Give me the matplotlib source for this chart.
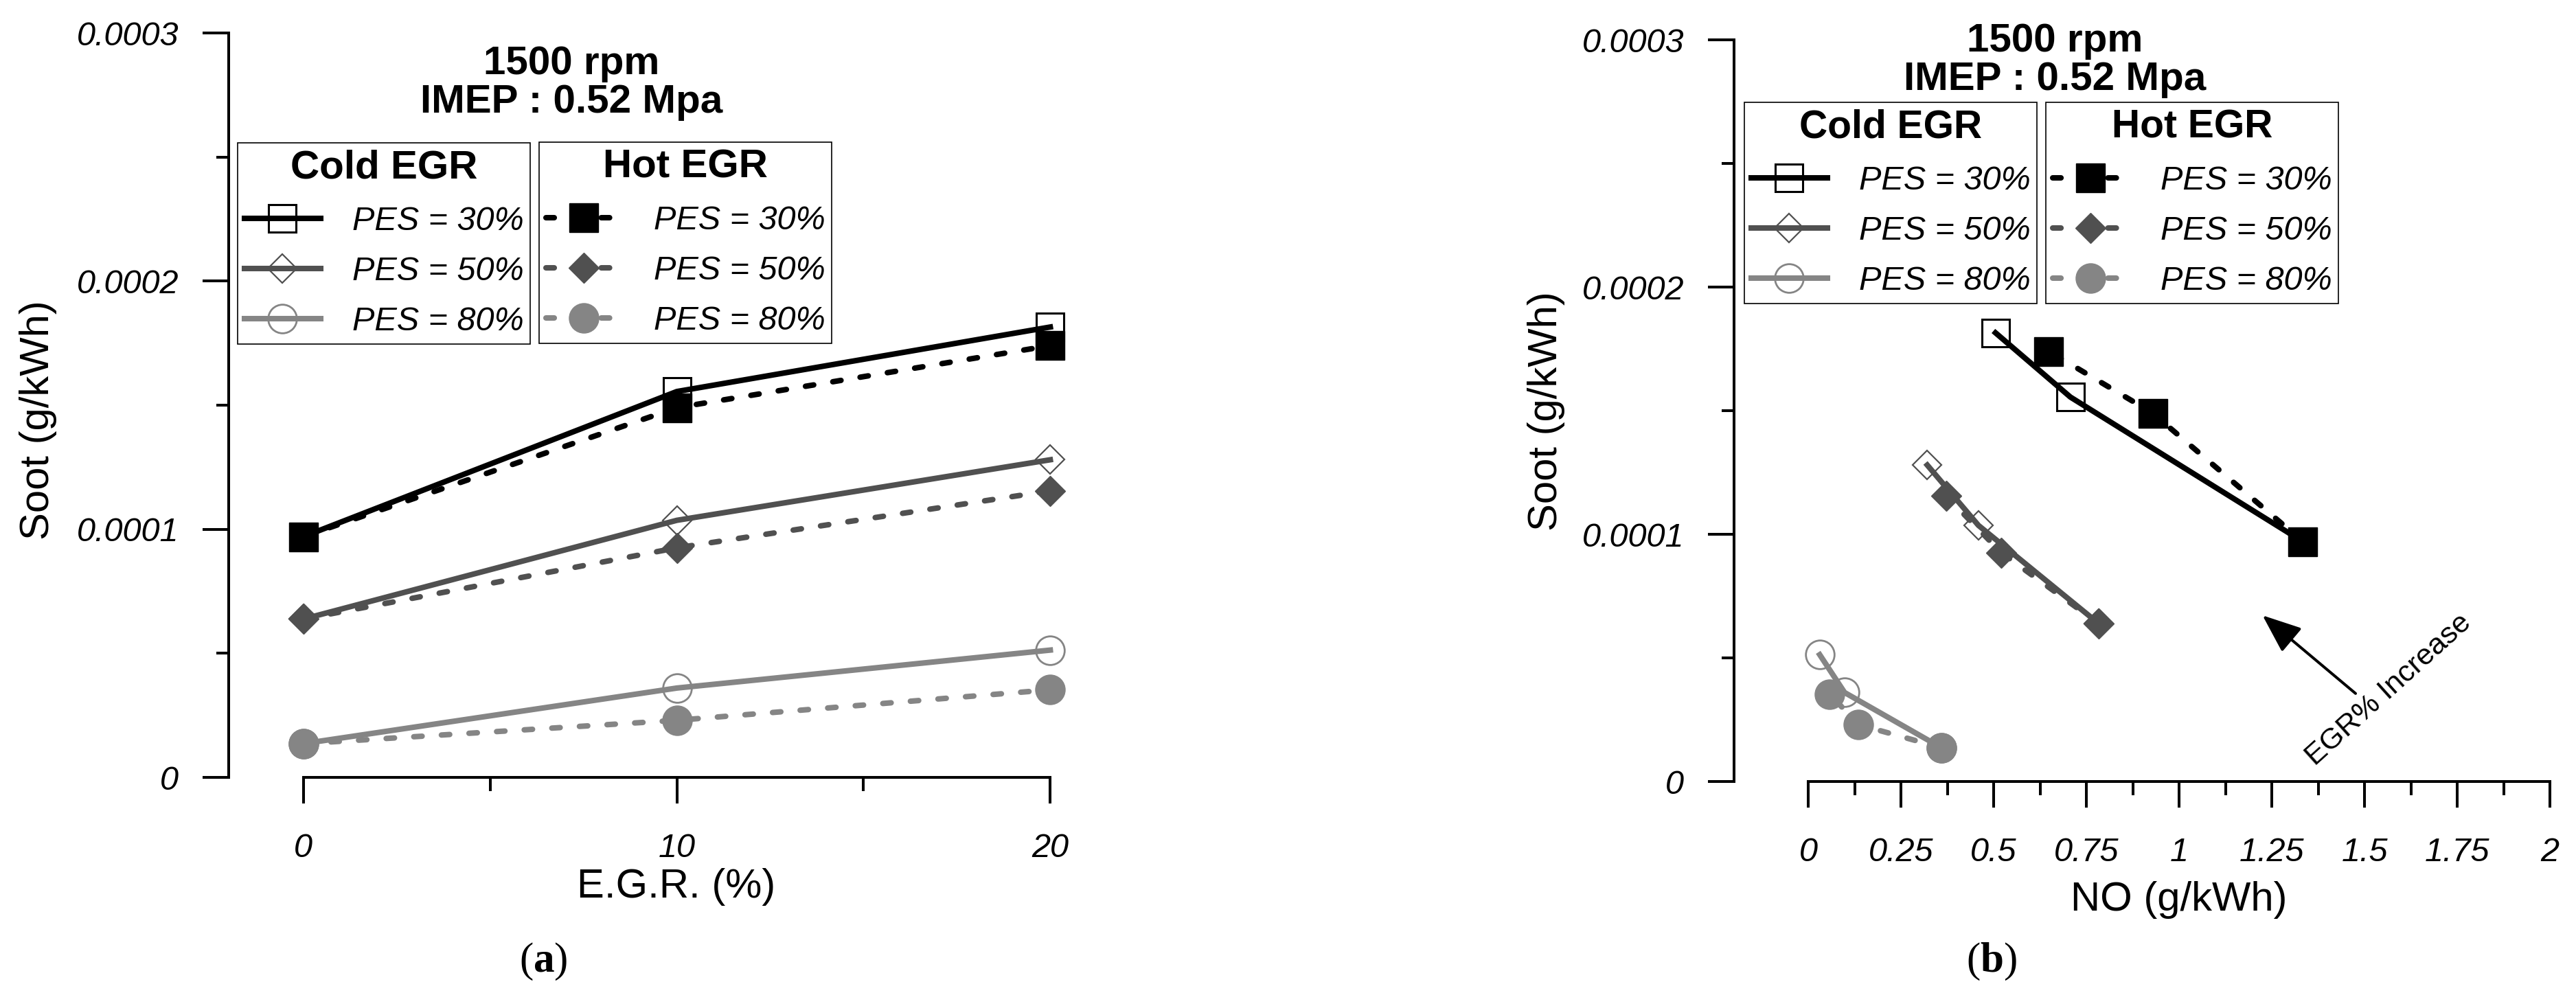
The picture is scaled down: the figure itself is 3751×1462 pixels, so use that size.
import numpy as np
import matplotlib
matplotlib.use("Agg")
import matplotlib.pyplot as plt
from matplotlib.ticker import FixedLocator

plt.rcParams['font.family'] = 'Liberation Sans'
plt.rcParams['mathtext.fontset'] = 'custom'
plt.rcParams['mathtext.rm'] = 'Liberation Serif'
plt.rcParams['mathtext.bf'] = 'Liberation Serif:bold'

# data
egr = [0, 10, 20]
soot_cold_30 = [0.97e-4, 1.555e-4, 1.815e-4]
soot_hot_30 = [0.97e-4, 1.49e-4, 1.74e-4]
soot_cold_50 = [0.638e-4, 1.036e-4, 1.28e-4]
soot_hot_50 = [0.638e-4, 0.925e-4, 1.155e-4]
soot_cold_80 = [0.136e-4, 0.36e-4, 0.513e-4]
soot_hot_80 = [0.136e-4, 0.23e-4, 0.353e-4]

no_cold_30 = [1.334, 0.707, 0.505]
no_hot_30 = [1.334, 0.929, 0.649]
no_cold_50 = [0.784, 0.459, 0.321]
no_hot_50 = [0.784, 0.521, 0.372]
no_cold_80 = [0.36, 0.098, 0.031]
no_hot_80 = [0.36, 0.136, 0.058]

pes_labels = ['PES = 30%', 'PES = 50%', 'PES = 80%']
y_ticks = [0, 1e-4, 2e-4, 3e-4]
y_ticklabels = ['0', '0.0001', '0.0002', '0.0003']
egr_ticks = [0, 10, 20]
egr_ticklabels = ['0', '10', '20']
no_ticks = [0, 0.25, 0.5, 0.75, 1, 1.25, 1.5, 1.75, 2]
no_ticklabels = ['0', '0.25', '0.5', '0.75', '1', '1.25', '1.5', '1.75', '2']

W, H, DPI = 3751, 1462, 100
c30, c50, c80 = '#000000', '#505050', '#858585'
LW = 5.8
DASH = (0, (1.5, 3.5))

fig = plt.figure(figsize=(W / DPI, H / DPI), dpi=DPI)
ax1 = fig.add_axes([333 / W, 330 / H, 1229 / W, 1084 / H])
ax2 = fig.add_axes([2525 / W, 324 / H, 1188 / W, 1080 / H])


def style(ax, xlim, xb, ticks, labels, minor):
    ax.set_xlim(*xlim)
    ax.set_ylim(0, 3e-4)
    for s in ['top', 'right']:
        ax.spines[s].set_visible(False)
    for s in ['left', 'bottom']:
        ax.spines[s].set_linewidth(2.9)
    ax.spines['bottom'].set_bounds(*xb)
    ax.spines['left'].set_bounds(0, 3e-4)
    ax.set_yticks(y_ticks, labels=y_ticklabels)
    ax.yaxis.set_minor_locator(FixedLocator([0.5e-4, 1.5e-4, 2.5e-4]))
    ax.set_xticks(ticks, labels=labels)
    ax.xaxis.set_minor_locator(FixedLocator(minor))
    ax.tick_params(which='major', length=27.4, width=2.9, labelsize=35)
    ax.tick_params(axis='y', which='minor', length=13, width=2.9)
    ax.tick_params(axis='x', which='minor', length=14.4, width=2.9)
    ax.tick_params(axis='y', which='major', pad=25)
    ax.tick_params(axis='x', which='major', pad=31)
    for lab in ax.get_xticklabels() + ax.get_yticklabels():
        lab.set_fontstyle('italic')
    ax.set_ylabel('Soot (g/kWh)', fontsize=43)
    ax.yaxis.label.set_va('center')


def draw(ax, xs):
    (xc30, xh30, xc50, xh50, xc80, xh80) = xs
    cold = [
        ax.plot(xc30[0], xc30[1], color=c30, lw=LW, marker='s', ms=28.5, mfc='none',
                mec=c30, mew=2.2, zorder=3, clip_on=False)[0],
        ax.plot(xc50[0], xc50[1], color=c50, lw=LW, marker='D', ms=21.5, mfc='none',
                mec=c50, mew=1.6, zorder=3, clip_on=False)[0],
        ax.plot(xc80[0], xc80[1], color=c80, lw=LW, marker='o', ms=30, mfc='none',
                mec=c80, mew=2, zorder=3, clip_on=False)[0],
    ]
    hot = [
        ax.plot(xh30[0], xh30[1], color=c30, lw=LW, ls=DASH, dash_capstyle='round',
                marker='s', ms=30.5, mfc=c30, mec=c30, mew=1, zorder=4, clip_on=False)[0],
        ax.plot(xh50[0], xh50[1], color=c50, lw=LW, ls=DASH, dash_capstyle='round',
                marker='D', ms=22.4, mfc=c50, mec=c50, mew=1, zorder=4, clip_on=False)[0],
        ax.plot(xh80[0], xh80[1], color=c80, lw=LW, ls=DASH, dash_capstyle='round',
                marker='o', ms=31, mfc=c80, mec=c80, mew=1, zorder=4, clip_on=False)[0],
    ]
    return cold, hot


def legends(cold, hot, pos_cold, pos_hot, tsize):
    for handles, title, (x0, y0) in [(cold, 'Cold EGR', pos_cold), (hot, 'Hot EGR', pos_hot)]:
        leg = fig.legend(handles, pes_labels, title=title, loc='upper left',
                         bbox_to_anchor=(x0 / W, 1 - y0 / H), bbox_transform=fig.transFigure,
                         prop={'style': 'italic', 'size': 35},
                         title_fontproperties={'weight': 'bold', 'size': tsize},
                         fancybox=False, framealpha=1, edgecolor='black',
                         borderpad=0.2, handlelength=2.28, handletextpad=0.95,
                         labelspacing=0.58, borderaxespad=0)
        leg.get_frame().set_linewidth(1.2)


style(ax1, (-2, 20.6), (0, 20), egr_ticks, egr_ticklabels, [5, 15])
cold, hot = draw(ax1, [(egr, soot_cold_30), (egr, soot_hot_30), (egr, soot_cold_50),
                       (egr, soot_hot_50), (egr, soot_cold_80), (egr, soot_hot_80)])
legends(cold, hot, (346, 208), (785, 207), 42)
ax1.set_xlabel('E.G.R. (%)', fontsize=43)
ax1.xaxis.set_label_coords(0.5305, -0.1467)
ax1.xaxis.label.set_va('center')
ax1.yaxis.set_label_coords(-0.2254, 0.48)
ax1.text(0.406, 0.933, '1500 rpm\nIMEP : 0.52 Mpa', transform=ax1.transAxes,
         ha='center', va='center', fontsize=42, fontweight='bold', linespacing=1.05)

style(ax2, (-0.2, 2.0), (0, 2), no_ticks, no_ticklabels, [0.125 + 0.25 * i for i in range(8)])
cold, hot = draw(ax2, [(no_cold_30, soot_cold_30), (no_hot_30, soot_hot_30),
                       (no_cold_50, soot_cold_50), (no_hot_50, soot_hot_50),
                       (no_cold_80, soot_cold_80), (no_hot_80, soot_hot_80)])
legends(cold, hot, (2540, 149), (2979, 149), 41)
ax2.set_xlabel('NO (g/kWh)', fontsize=43)
ax2.xaxis.set_label_coords(0.545, -0.160)
ax2.xaxis.label.set_va('center')
ax2.yaxis.set_label_coords(-0.2306, 0.499)
ax2.text(0.393, 0.972, '1500 rpm\nIMEP : 0.52 Mpa', transform=ax2.transAxes,
         ha='center', va='center', fontsize=42, fontweight='bold', linespacing=1.05)

# EGR% increase arrow
ax2.annotate('', xy=(1.225, 0.672e-4), xytext=(1.476, 0.356e-4),
             arrowprops=dict(arrowstyle='-|>,head_length=1.0,head_width=0.4',
                             mutation_scale=35, lw=2.9, color='black',
                             shrinkA=0, shrinkB=0))
ax2.text(1.565, 0.37e-4, 'EGR% Increase', rotation=42, ha='center', va='center',
         fontsize=31)

fig.text(791 / W, 1 - 1400 / H, r'($\mathbf{a}$)', family='Liberation Serif',
         fontsize=44, ha='center', va='center')
fig.text(2900 / W, 1 - 1400 / H, r'($\mathbf{b}$)', family='Liberation Serif',
         fontsize=44, ha='center', va='center')

fig.savefig('out.png', dpi=DPI)
